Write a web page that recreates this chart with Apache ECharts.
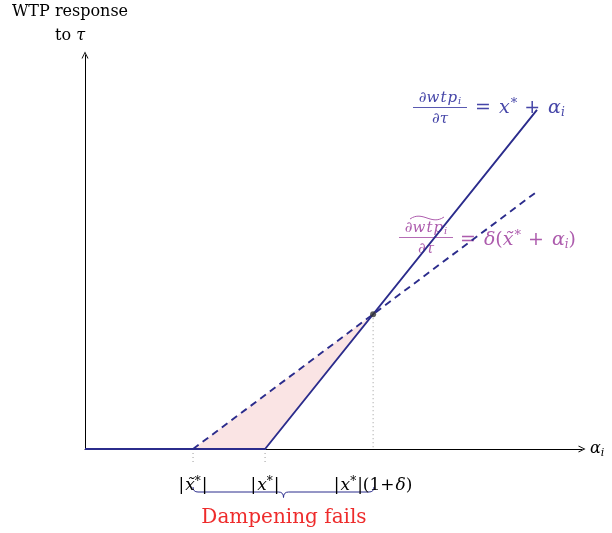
<!DOCTYPE html>
<html>
<head>
<meta charset="utf-8">
<script src="https://cdn.jsdelivr.net/npm/echarts@6/dist/echarts.min.js"></script>
<style>
  html, body { margin: 0; padding: 0; background: #fff; }
  #chart { width: 612px; height: 533px; }
</style>
</head>
<body>
<div id="chart"></div>
<script>
// Response of willingness-to-pay to tau, as a function of alpha_i
const alphaSolid = [0, 5, 12.55];      // solid: x* + alpha_i, kinked at |x*|
const wtpSolid   = [0, 0, 7.55];
const alphaDashed = [0, 3, 12.55];     // dashed: delta (x~* + alpha_i), kinked at |x~*|
const wtpDashed   = [0, 0, 5.73];
const crossAlpha = 8;                   // |x*|(1+delta)
const crossWtp = 3;
const shadeAlpha = [3, 5, 8];           // region where dampening fails
const shadeWtp   = [0, 0, 3];
const guideAlpha  = [3, 5, 8];
const guideTop    = [0, 0, 3];
const guideBottom = [-0.3, -0.3, 0];
const tickValues = [3, 5, 8];
const tickLabels = [
  '{r||}{i|x\u0303}{sup|*}{r||}',
  '{r||}{i|x}{sup|*}{r||}',
  '{r||}{i|x}{sup|*}{r||(1+}{i|\u03b4}{r|)}'
];

const NAVY = '#2b2c8c';
const LABEL_BLUE = '#4646a8';
const LABEL_PINK = '#ad5cad';
const SERIF = '"DejaVu Serif", "Liberation Serif", serif';
const chevron = 'path://M0,10 L5,0 L10,10 L8.6,10 L5,2.6 L1.4,10 Z';

const chart = echarts.init(document.getElementById('chart'));

const zip = (a, b) => a.map((v, i) => [v, b[i]]);

const guideSeries = guideAlpha.map((a, i) => ({
  type: 'line',
  data: [[a, guideTop[i]], [a, guideBottom[i]]],
  symbol: 'none',
  clip: false,
  silent: true,
  lineStyle: { color: '#9a9a9a', width: 1, type: [1, 3] },
  z: 1
}));

// curly brace built from straight runs and quadratic curves
function braceParts(xl, xr, yEnd, yBar, yTip, r) {
  const xm = (xl + xr) / 2;
  const st = { stroke: NAVY, lineWidth: 1, fill: null };
  const curve = (x1, y1, x2, y2, cx, cy) => ({
    type: 'bezierCurve', shape: { x1, y1, x2, y2, cpx1: cx, cpy1: cy }, style: st });
  return [
    curve(xl, yEnd, xl + r, yBar, xl, yBar),
    { type: 'line', shape: { x1: xl + r, y1: yBar, x2: xm - r, y2: yBar }, style: st },
    curve(xm - r, yBar, xm, yTip, xm, yBar),
    curve(xm, yTip, xm + r, yBar, xm, yBar),
    { type: 'line', shape: { x1: xm + r, y1: yBar, x2: xr - r, y2: yBar }, style: st },
    curve(xr - r, yBar, xr, yEnd, xr, yBar)
  ];
}

// rich-text styles for a displayed formula
function mathRich(size) {
  return {
    r: { fontFamily: SERIF, fontSize: size },
    op: { fontFamily: SERIF, fontSize: size, padding: [0, 8, 0, 7] },
    i: { fontFamily: SERIF, fontStyle: 'italic', fontSize: size },
    w: { fontFamily: SERIF, fontStyle: 'italic', fontSize: size, padding: [0, 1, 0, 0] },
    sup: { fontFamily: SERIF, fontSize: Math.round(size * 0.68), verticalAlign: 'top', padding: [0, 0, 9, 1] },
    s: { fontFamily: SERIF, fontStyle: 'italic', fontSize: Math.round(size * 0.65), padding: [size * 0.5, 0, 0, 0] }
  };
}

const option = {
  animation: false,
  grid: { left: 85, right: 30, top: 55, bottom: 84 },
  xAxis: {
    type: 'value', min: 0, max: 13.8,
    splitLine: { show: false },
    axisTick: { show: false },
    axisLine: {
      show: true, onZero: false,
      symbol: ['none', chevron], symbolSize: [10, 7],
      lineStyle: { color: '#000', width: 1 }
    },
    axisLabel: {
      customValues: tickValues,
      margin: 27,
      color: '#000',
      fontFamily: SERIF, fontSize: 17,
      formatter: (v) => tickLabels[tickValues.indexOf(v)] || '',
      rich: {
        r: { fontFamily: SERIF, fontSize: 17, color: '#000' },
        i: { fontFamily: SERIF, fontStyle: 'italic', fontSize: 17, color: '#000', padding: [0, 0, 0, 1] },
        sup: { fontFamily: SERIF, fontSize: 12, color: '#000', verticalAlign: 'top', padding: [0, 1, 7, 0] }
      }
    },
    name: '{a|\u03b1}{s|i}',
    nameLocation: 'end', nameGap: 8,
    nameTextStyle: {
      rich: {
        a: { fontFamily: SERIF, fontStyle: 'italic', fontSize: 16, color: '#000' },
        s: { fontFamily: SERIF, fontStyle: 'italic', fontSize: 11, color: '#000', padding: [8, 0, 0, 0] }
      }
    }
  },
  yAxis: {
    type: 'value', min: 0, max: 8.77,
    splitLine: { show: false },
    axisTick: { show: false },
    axisLabel: { show: false },
    axisLine: {
      show: true, onZero: false,
      symbol: ['none', chevron], symbolSize: [10, 7],
      lineStyle: { color: '#000', width: 1 }
    }
  },
  series: [
    {
      type: 'custom',
      silent: true,
      z: 0,
      data: [0],
      renderItem: (params, api) => ({
        type: 'polygon',
        shape: { points: zip(shadeAlpha, shadeWtp).map(p => api.coord(p)) },
        style: { fill: '#fae4e4' }
      })
    },
    ...guideSeries,
    {
      type: 'line', data: zip(alphaSolid, wtpSolid), symbol: 'none',
      lineStyle: { color: NAVY, width: 1.9 }, z: 3
    },
    {
      type: 'line', data: zip(alphaDashed, wtpDashed), symbol: 'none',
      lineStyle: { color: NAVY, width: 1.9, type: [7, 5] }, z: 4
    },
    {
      type: 'scatter', data: [[crossAlpha, crossWtp]], symbolSize: 6,
      itemStyle: { color: '#333' }, z: 5
    }
  ],
  graphic: [
    // y-axis title
    { type: 'text', x: 70, y: 4, style: {
        text: 'WTP response', fontFamily: SERIF, fontSize: 16, fill: '#000', align: 'center' } },
    { type: 'text', x: 70, y: 28, style: {
        text: '{r|to }{i|\u03c4}', fill: '#000', align: 'center',
        rich: { r: { fontFamily: SERIF, fontSize: 16 }, i: { fontFamily: SERIF, fontSize: 16, fontStyle: 'italic' } } } },

    // solid-line formula
    { type: 'text', x: 440, y: 98, style: {
        text: '{r|\u2202}{w|w}{w|t}{w|p}{s|i}', align: 'center', verticalAlign: 'middle', fill: LABEL_BLUE,
        rich: mathRich(15) } },
    { type: 'line', shape: { x1: 413, y1: 107.5, x2: 467, y2: 107.5 }, style: { stroke: LABEL_BLUE, lineWidth: 0.9 } },
    { type: 'text', x: 440, y: 119, style: {
        text: '{r|\u2202}{i|\u03c4}', align: 'center', verticalAlign: 'middle', fill: LABEL_BLUE,
        rich: mathRich(15) } },
    { type: 'text', x: 468, y: 108, style: {
        text: '{op|=}{i|x}{sup|*}{op|+}{i|\u03b1}{s|i}', align: 'left', verticalAlign: 'middle', fill: LABEL_BLUE,
        rich: mathRich(19) } },

    // dashed-line formula
    { type: 'text', x: 426, y: 228, style: {
        text: '{r|\u2202}{w|w}{w|t}{w|p}{s|i}', align: 'center', verticalAlign: 'middle', fill: LABEL_PINK,
        rich: mathRich(15) } },
    { type: 'bezierCurve', shape: { x1: 410, y1: 219, x2: 444, y2: 217, cpx1: 423, cpy1: 210, cpx2: 431, cpy2: 226 },
      style: { stroke: LABEL_PINK, lineWidth: 1, fill: null } },
    { type: 'line', shape: { x1: 399, y1: 237.5, x2: 453, y2: 237.5 }, style: { stroke: LABEL_PINK, lineWidth: 0.9 } },
    { type: 'text', x: 426, y: 249, style: {
        text: '{r|\u2202}{i|\u03c4}', align: 'center', verticalAlign: 'middle', fill: LABEL_PINK,
        rich: mathRich(15) } },
    { type: 'text', x: 453, y: 240, style: {
        text: '{op|=}{i|\u03b4}{r|(}{i|x\u0303}{sup|*}{op|+}{i|\u03b1}{s|i}{r|)}', align: 'left', verticalAlign: 'middle', fill: LABEL_PINK,
        rich: mathRich(19) } },

    // brace under the failing interval
    ...braceParts(193, 374, 487, 492, 497.5, 5),
    { type: 'text', x: 284, y: 518, style: {
        text: 'Dampening fails', fontFamily: SERIF, fontSize: 20, fill: '#ee2b2b', align: 'center', verticalAlign: 'middle' } }
  ]
};

chart.setOption(option);
</script>
</body>
</html>
